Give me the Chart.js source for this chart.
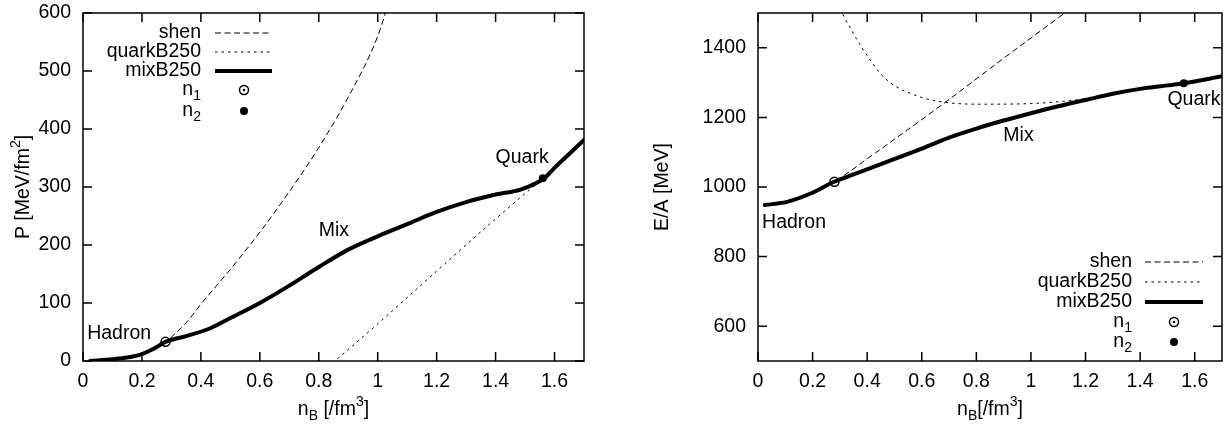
<!DOCTYPE html>
<html>
<head>
<meta charset="utf-8">
<title>P and E/A vs n_B</title>
<script src="https://cdn.jsdelivr.net/npm/chart.js@4"></script>
<style>
  html, body { margin: 0; padding: 0; background: #fff; overflow: hidden; }
  .panel { position: absolute; top: 0; width: 614px; height: 431px; }
  #left { left: 0; }
  #right { left: 614px; }
</style>
</head>
<body>
<div class="panel" id="left"><canvas id="chartP" width="614" height="431"></canvas></div>
<div class="panel" id="right"><canvas id="chartE" width="614" height="431"></canvas></div>
<script>
// --- tick labels ---
const nTicks = [0, 0.2, 0.4, 0.6, 0.8, 1, 1.2, 1.4, 1.6];
const pTicks = [0, 100, 200, 300, 400, 500, 600];
const eTicks = [600, 800, 1000, 1200, 1400];

// --- left panel: pressure P [MeV/fm^2] vs n_B ---
const pShenN  = [0.024, 0.1, 0.15, 0.2, 0.24, 0.28, 0.35, 0.4, 0.5, 0.6, 0.7, 0.8, 0.9, 1.0, 1.05];
const pShenP  = [0, 3, 6, 12, 21, 33, 66, 98, 158, 222, 292, 368, 455, 560, 640];
const pQuarkN = [0.83, 0.855, 1.0, 1.2, 1.4, 1.527, 1.564, 1.6, 1.7];
const pQuarkP = [-11, 0, 64, 155, 245, 300, 315, 333, 381];
const pMixN   = [0.024, 0.1, 0.15, 0.2, 0.24, 0.28, 0.35, 0.43, 0.5, 0.6, 0.7, 0.8, 0.9, 1.0, 1.1, 1.2, 1.3, 1.4, 1.487, 1.564, 1.6, 1.7];
const pMixP   = [0, 3, 6, 12, 21, 33, 43, 56, 74, 100, 130, 162, 192, 215, 236, 257, 274, 287, 296, 315, 333, 381];

// --- right panel: energy per baryon E/A [MeV] vs n_B ---
const eShenN  = [0.025, 0.11, 0.195, 0.279, 0.43, 0.689, 0.9, 1.124, 1.16];
const eShenE  = [948, 958, 982, 1015, 1098, 1245, 1370, 1500, 1521];
const eQuarkN = [0.29, 0.309, 0.382, 0.466, 0.575, 0.689, 0.828, 1.01, 1.1, 1.2, 1.3, 1.4, 1.5, 1.56, 1.7];
const eQuarkE = [1530, 1499, 1399, 1312, 1264, 1243, 1238, 1240, 1245, 1254, 1271, 1284, 1293, 1299, 1319];
const eMixN   = [0.025, 0.11, 0.195, 0.279, 0.35, 0.472, 0.6, 0.7, 0.8, 0.9, 1.0, 1.1, 1.2, 1.3, 1.4, 1.5, 1.56, 1.7];
const eMixE   = [948, 958, 982, 1015, 1036, 1072, 1110, 1142, 1168, 1191, 1212, 1232, 1250, 1268, 1282, 1292, 1298, 1318];

// phase boundaries
const n1 = 0.28, n2 = 1.56;
const pAtN = [33, 315];
const eAtN = [1015, 1298];

const FONT = '"Liberation Sans", Arial, Helvetica, sans-serif';
Chart.defaults.font.family = FONT;
Chart.defaults.font.size = 19.5;
Chart.defaults.color = '#000';

function pts(xs, ys) { return xs.map((v, i) => ({ x: v, y: ys[i] })); }
function fmt(v) { return String(+v.toFixed(1)); }

// draw text made of pieces, some of them sub/superscript
function richText(ctx, parts, x, y, align) {
  const big = '19.5px ' + FONT, small = '14px ' + FONT;
  let w = 0;
  parts.forEach(p => { ctx.font = p.s ? small : big; w += ctx.measureText(p.t).width; });
  let cx = align === 'right' ? x - w : align === 'center' ? x - w / 2 : x;
  ctx.textAlign = 'left';
  ctx.textBaseline = 'middle';
  parts.forEach(p => {
    ctx.font = p.s ? small : big;
    const dy = p.s === 'sub' ? 6 : p.s === 'sup' ? -8 : 0;
    ctx.fillText(p.t, cx, y + dy);
    cx += ctx.measureText(p.t).width;
  });
}

// gnuplot-like frame with inward ticks on all four sides
const framePlugin = {
  id: 'frame',
  afterDraw(chart) {
    const { ctx, chartArea: a, scales: { x, y } } = chart;
    ctx.save();
    ctx.strokeStyle = '#000';
    ctx.lineWidth = 1.5;
    ctx.strokeRect(a.left, a.top, a.right - a.left, a.bottom - a.top);
    ctx.beginPath();
    x.ticks.forEach(t => {
      const px = x.getPixelForValue(t.value);
      ctx.moveTo(px, a.bottom); ctx.lineTo(px, a.bottom - 9);
      ctx.moveTo(px, a.top); ctx.lineTo(px, a.top + 9);
    });
    y.ticks.forEach(t => {
      const py = y.getPixelForValue(t.value);
      ctx.moveTo(a.left, py); ctx.lineTo(a.left + 9, py);
      ctx.moveTo(a.right, py); ctx.lineTo(a.right - 9, py);
    });
    ctx.stroke();
    ctx.restore();
  }
};

// axis titles + in-plot notes (Hadron / Mix / Quark)
const textPlugin = {
  id: 'texts',
  afterDraw(chart, args, o) {
    const { ctx, chartArea: a, scales: { x, y } } = chart;
    ctx.save();
    ctx.fillStyle = '#000';
    richText(ctx, o.xTitle, (a.left + a.right) / 2, 410, 'center');
    ctx.translate(o.yTitleX, (a.top + a.bottom) / 2);
    ctx.rotate(-Math.PI / 2);
    richText(ctx, o.yTitle, 0, 0, 'center');
    ctx.restore();
    ctx.save();
    ctx.fillStyle = '#000';
    o.notes.forEach(n => {
      richText(ctx, [{ t: n.t }], x.getPixelForValue(n.x), y.getPixelForValue(n.y), 'left');
    });
    ctx.restore();
  }
};

// key box like gnuplot: label right aligned, sample on the right
const keyPlugin = {
  id: 'gpKey',
  afterDraw(chart, args, o) {
    const ctx = chart.ctx;
    const order = ['shen', 'quarkB250', 'mixB250', 'n1', 'n2'];
    ctx.save();
    ctx.fillStyle = '#000';
    ctx.strokeStyle = '#000';
    order.forEach((lab, i) => {
      const ds = chart.data.datasets.find(d => d.label === lab);
      const yy = o.rows[i];
      const parts = /^n\d$/.test(lab) ? [{ t: 'n' }, { t: lab[1], s: 'sub' }] : [{ t: lab }];
      richText(ctx, parts, o.textRight, yy, 'right');
      if (!ds.showLine) {
        ctx.setLineDash([]);
        ctx.beginPath();
        if (lab === 'n1') {
          ctx.lineWidth = 1.5;
          ctx.arc(o.symX, yy, 4.5, 0, Math.PI * 2);
          ctx.stroke();
          ctx.beginPath();
          ctx.arc(o.symX, yy, 1.3, 0, Math.PI * 2);
          ctx.fill();
        } else {
          ctx.arc(o.symX, yy, 4, 0, Math.PI * 2);
          ctx.fill();
        }
      } else {
        ctx.lineWidth = ds.borderWidth;
        ctx.setLineDash(ds.borderDash || []);
        ctx.beginPath();
        ctx.moveTo(o.lineX1, yy);
        ctx.lineTo(o.lineX2, yy);
        ctx.stroke();
      }
    });
    ctx.restore();
  }
};

function makeDatasets(shen, quark, mix, atN) {
  const line = { showLine: true, pointRadius: 0, borderColor: '#000', cubicInterpolationMode: 'monotone', fill: false };
  return [
    { label: 'n1', data: [{ x: n1, y: atN[0] }], showLine: false, pointStyle: 'circle', pointRadius: 4.5,
      pointBorderWidth: 1.5, pointBorderColor: '#000', pointBackgroundColor: 'rgba(0,0,0,0)', order: 0 },
    { label: 'n2', data: [{ x: n2, y: atN[1] }], showLine: false, pointStyle: 'circle', pointRadius: 4,
      pointBorderWidth: 0, pointBackgroundColor: '#000', order: 0 },
    Object.assign({ label: 'mixB250', data: mix, borderWidth: 4, borderCapStyle: 'round', order: 1 }, line),
    Object.assign({ label: 'quarkB250', data: quark, borderWidth: 1, borderDash: [2.5, 4], order: 2 }, line),
    Object.assign({ label: 'shen', data: shen, borderWidth: 1, borderDash: [6, 3.5], order: 2 }, line)
  ];
}

function makeChart(id, cfg) {
  return new Chart(document.getElementById(id), {
    type: 'scatter',
    data: { datasets: cfg.datasets },
    options: {
      responsive: false,
      animation: false,
      layout: { padding: { left: 0, right: cfg.padRight, top: 13, bottom: 0 } },
      plugins: {
        legend: { display: false },
        tooltip: { enabled: false },
        texts: cfg.texts,
        gpKey: cfg.key
      },
      scales: {
        x: {
          type: 'linear', min: 0, max: 1.7,
          grid: { display: false, drawTicks: false },
          border: { display: false },
          ticks: { padding: 9, callback: v => fmt(v), maxRotation: 0 },
          afterBuildTicks: s => { s.ticks = nTicks.map(v => ({ value: v })); },
          afterFit: s => { s.height = 70; s.paddingLeft = 0; s.paddingRight = 0; }
        },
        y: {
          type: 'linear', min: cfg.yMin, max: cfg.yMax,
          grid: { display: false, drawTicks: false },
          border: { display: false },
          ticks: { padding: 12, callback: v => fmt(v) },
          afterBuildTicks: s => { s.ticks = cfg.yTicks.map(v => ({ value: v })); },
          afterFit: s => { s.width = cfg.yWidth; s.paddingTop = 0; s.paddingBottom = 0; }
        }
      }
    },
    plugins: [framePlugin, textPlugin, keyPlugin]
  });
}

makeChart('chartP', {
  datasets: makeDatasets(pts(pShenN, pShenP), pts(pQuarkN, pQuarkP), pts(pMixN, pMixP), pAtN),
  yMin: 0, yMax: 600, yTicks: pTicks, yWidth: 83, padRight: 30,
  texts: {
    xTitle: [{ t: 'n' }, { t: 'B', s: 'sub' }, { t: ' [/fm' }, { t: '3', s: 'sup' }, { t: ']' }],
    yTitle: [{ t: 'P [MeV/fm' }, { t: '2', s: 'sup' }, { t: ']' }],
    yTitleX: 24,
    notes: [
      { t: 'Hadron', x: 0.014, y: 48 },
      { t: 'Mix', x: 0.8, y: 224 },
      { t: 'Quark', x: 1.4, y: 350 }
    ]
  },
  key: { textRight: 201, lineX1: 215, lineX2: 272, symX: 244, rows: [33, 52, 71, 90, 111] }
});

makeChart('chartE', {
  datasets: makeDatasets(pts(eShenN, eShenE), pts(eQuarkN, eQuarkE), pts(eMixN, eMixE), eAtN),
  yMin: 500, yMax: 1500, yTicks: eTicks, yWidth: 144, padRight: 1,
  texts: {
    xTitle: [{ t: 'n' }, { t: 'B', s: 'sub' }, { t: '[/fm' }, { t: '3', s: 'sup' }, { t: ']' }],
    yTitle: [{ t: 'E/A [MeV]' }],
    yTitleX: 49,
    notes: [
      { t: 'Hadron', x: 0.015, y: 897 },
      { t: 'Mix', x: 0.899, y: 1147 },
      { t: 'Quark', x: 1.5, y: 1250 }
    ]
  },
  key: { textRight: 518, lineX1: 531, lineX2: 589, symX: 560, rows: [262, 282, 302, 322, 342] }
});
</script>
</body>
</html>
